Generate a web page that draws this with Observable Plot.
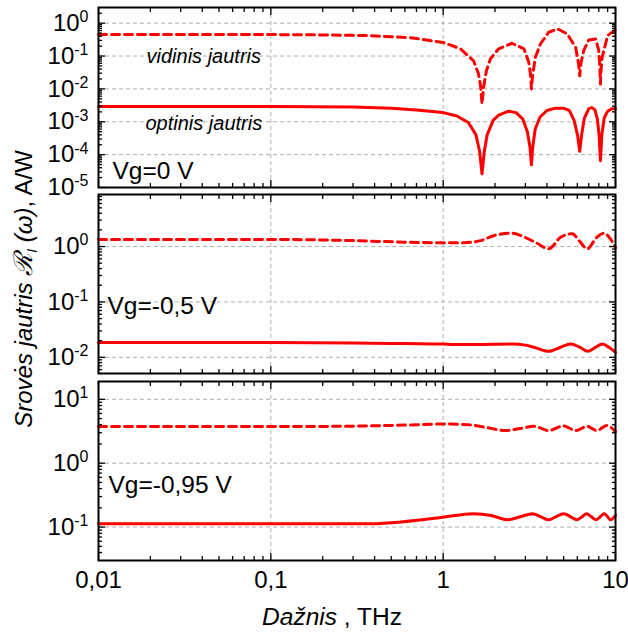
<!DOCTYPE html>
<html><head><meta charset="utf-8">
<script src="https://cdn.jsdelivr.net/npm/d3@7"></script>
<script src="https://cdn.jsdelivr.net/npm/@observablehq/plot@0.6"></script>
<style>
body{margin:0;background:#fff;}
#chart{position:relative;width:628px;height:632px;font-family:"Liberation Sans",Arial,sans-serif;}
#chart svg{position:absolute;left:0;overflow:visible;}
</style></head><body><div id="chart"></div>
<script>
// ---------- data ----------
const xDomain = [0.01, 10];
const xTicks = [0.01, 0.1, 1, 10];
const xTickLabels = ["0,01", "0,1", "1", "10"];

const panelLabels = ["Vg=0 V", "Vg=-0,5 V", "Vg=-0,95 V"];
const curveLabels = ["vidinis jautris", "optinis jautris"];

// Panel 1: Vg = 0 V
const p1InternalFreq = [0.01,0.1,0.2,0.36,0.65,1.0,1.26,1.5,1.6,1.65,1.68,1.72,1.78,1.88,2.1,2.51,2.94,3.14,3.22,3.25,3.3,3.43,3.67,4.1,4.62,5.25,5.87,6.1,6.2,6.3,6.54,7.0,7.67,8.0,8.12,8.18,8.25,8.37,9.0,10];
const p1Internal     = [0.45,0.45,0.44,0.42,0.36,0.26,0.166,0.072,0.03,0.012,0.0035,0.012,0.035,0.082,0.166,0.245,0.166,0.065,0.025,0.01,0.025,0.092,0.235,0.53,0.67,0.47,0.185,0.06,0.025,0.06,0.147,0.31,0.33,0.147,0.04,0.014,0.04,0.092,0.42,0.63];
const p1OpticalFreq = [0.01,0.1,0.3,0.5,0.7,1.0,1.2,1.4,1.55,1.63,1.68,1.73,1.8,1.95,2.1,2.4,2.65,2.9,3.08,3.19,3.25,3.31,3.42,3.65,4.0,4.5,5.0,5.4,5.75,6.02,6.2,6.36,6.6,7.0,7.3,7.6,7.85,8.03,8.18,8.33,8.6,9.0,9.5,10];
const p1Optical     = [0.0029,0.0029,0.0028,0.0026,0.0023,0.0019,0.0015,0.00095,0.0004,0.00012,0.000026,0.00012,0.0004,0.0011,0.0016,0.0021,0.0019,0.0012,0.0005,0.00017,0.000049,0.00017,0.0006,0.0014,0.0022,0.0026,0.0026,0.0022,0.0011,0.0004,0.000126,0.0004,0.0013,0.0025,0.0027,0.0023,0.0012,0.0004,0.000065,0.0004,0.0013,0.0021,0.0025,0.0025];
const p1YTicks = [1e-5, 1e-4, 1e-3, 1e-2, 1e-1, 1];

// Panel 2: Vg = -0,5 V
const p2InternalFreq = [0.01,0.1,0.3,0.6,1.0,1.3,1.65,2.0,2.5,3.0,3.5,4.1,4.8,5.6,6.25,6.85,7.8,8.6,9.3,10];
const p2Internal     = [1.34,1.34,1.28,1.2,1.17,1.17,1.28,1.6,1.74,1.45,1.15,0.91,1.47,1.7,1.2,0.91,1.47,1.74,1.4,0.95];
const p2OpticalFreq = [0.01,0.1,0.3,0.6,1.0,1.15,1.6,2.5,3.0,3.4,4.1,4.8,5.5,6.2,6.9,7.6,8.4,9.2,10];
const p2Optical     = [0.0186,0.0186,0.0182,0.0177,0.0174,0.0170,0.0171,0.0174,0.0166,0.015,0.0128,0.0152,0.0174,0.0152,0.0128,0.015,0.0174,0.015,0.0123];
const p2YTicks = [1e-2, 1e-1, 1];

// Panel 3: Vg = -0,95 V
const p3InternalFreq = [0.01,0.1,0.3,0.6,1.0,1.4,1.8,2.3,2.8,3.36,4.1,5.0,5.87,6.85,7.8,8.9,10];
const p3Internal     = [3.74,3.74,3.8,3.95,4.1,4.0,3.6,3.24,3.5,3.78,3.24,3.84,3.24,3.78,3.24,3.9,3.1];
const p3OpticalFreq = [0.01,0.1,0.38,0.6,1.0,1.5,1.9,2.37,2.8,3.3,3.7,4.1,4.5,5.0,5.5,5.95,6.4,6.8,7.25,7.7,8.15,8.6,9.0,9.35,10];
const p3Optical     = [0.113,0.113,0.113,0.122,0.143,0.162,0.152,0.13,0.145,0.162,0.145,0.13,0.145,0.162,0.145,0.13,0.145,0.162,0.145,0.13,0.145,0.162,0.145,0.13,0.153];
const p3YTicks = [1e-1, 1, 10];

// ---------- helpers ----------
const FONT = "Liberation Sans, Arial, sans-serif";
const RED = "#ff0000";
function minorTicks(domain) {
  const out = [];
  const e0 = Math.floor(Math.log10(domain[0])), e1 = Math.ceil(Math.log10(domain[1]));
  for (let e = e0; e < e1; e++) for (let k = 2; k <= 9; k++) {
    const v = k * Math.pow(10, e);
    if (v > domain[0] && v < domain[1]) out.push(v);
  }
  return out;
}
const xMinor = minorTicks(xDomain);
const tickStyle = {stroke: "#000", strokeWidth: 1.3, label: null};

function makePanel(cfg) {
  const {top, height, mt, mb, yDomain, yTicks, inF, inV, opF, opV, curve, showX, texts} = cfg;
  const yMinor = minorTicks(yDomain);
  const inside = (d, dom) => d > dom[0] * 1.0001 && d < dom[1] * 0.9999;
  const marks = [
    Plot.gridX(xTicks.filter(d => inside(d, xDomain)), {stroke: "#b0b0b0", strokeOpacity: 1, strokeDasharray: "4,3"}),
    Plot.gridY(yTicks.filter(d => inside(d, yDomain)), {stroke: "#b0b0b0", strokeOpacity: 1, strokeDasharray: "4,3"}),
    Plot.line(inF, {x: inF, y: inV, stroke: RED, strokeWidth: 3, strokeDasharray: "8,5", curve}),
    Plot.line(opF, {x: opF, y: opV, stroke: RED, strokeWidth: 3, curve}),
    // ticks (inward)
    Plot.axisX(xMinor, {anchor: "bottom", tickSize: -4, tickFormat: () => "", ...tickStyle}),
    Plot.axisX(xMinor, {anchor: "top", tickSize: -4, tickFormat: () => "", ...tickStyle}),
    Plot.axisX(xTicks, {anchor: "bottom", tickSize: -7, tickFormat: () => "", ...tickStyle}),
    Plot.axisX(xTicks, {anchor: "top", tickSize: -7, tickFormat: () => "", ...tickStyle}),
    Plot.axisY(yMinor, {anchor: "left", tickSize: -4, tickFormat: () => "", ...tickStyle}),
    Plot.axisY(yMinor, {anchor: "right", tickSize: -4, tickFormat: () => "", ...tickStyle}),
    Plot.axisY(yTicks, {anchor: "left", tickSize: -7, tickFormat: () => "", ...tickStyle}),
    Plot.axisY(yTicks, {anchor: "right", tickSize: -7, tickFormat: () => "", ...tickStyle}),
    // tick labels
    Plot.axisY(yTicks, {anchor: "left", tickSize: 0, tickPadding: 10, label: null, fontSize: 24,
      tickFormat: d => "10^" + Math.round(Math.log10(d))}),
    Plot.frame({stroke: "#000", strokeWidth: 2}),
    ...texts.map(t => Plot.text([t.text], {text: d => d, frameAnchor: t.anchor, lineAnchor: "top", textAnchor: "start",
      dx: t.dx, dy: t.dy, fontSize: t.size, fontStyle: t.italic ? "italic" : "normal", fill: "#000"}))
  ];
  if (showX) marks.push(Plot.axisX(xTicks, {anchor: "bottom", tickSize: 0, tickPadding: 10, label: null, fontSize: 24,
    tickFormat: d => xTickLabels[xTicks.indexOf(d)]}));
  const svg = Plot.plot({
    width: 628, height, marginLeft: 98, marginRight: 13, marginTop: mt, marginBottom: mb,
    x: {type: "log", domain: xDomain},
    y: {type: "log", domain: yDomain},
    style: {fontFamily: FONT, fontSize: "24px", color: "#000", background: "transparent", overflow: "visible"},
    marks
  });
  svg.style.position = "absolute";
  svg.style.top = top + "px";
  svg.style.left = "0px";
  // superscript exponents on y tick labels
  svg.querySelectorAll('[aria-label="y-axis tick label"] text').forEach(t => {
    const s = t.textContent;
    if (!s.includes("^")) return;
    const [base, exp] = s.split("^");
    t.textContent = "";
    const ns = "http://www.w3.org/2000/svg";
    const a = document.createElementNS(ns, "tspan"); a.textContent = base; t.appendChild(a);
    const b = document.createElementNS(ns, "tspan"); b.textContent = exp;
    b.setAttribute("dy", "-0.55em"); b.setAttribute("font-size", "16px"); t.appendChild(b);
  });
  document.getElementById("chart").appendChild(svg);
}

makePanel({top: 0, height: 197, mt: 7, mb: 10, yDomain: [1e-5, 3], yTicks: p1YTicks,
  inF: p1InternalFreq, inV: p1Internal, opF: p1OpticalFreq, opV: p1Optical, curve: "linear", showX: false,
  texts: [
    {text: panelLabels[0], anchor: "bottom-left", dx: 14, dy: -26, size: 24.5},
    {text: curveLabels[0], anchor: "top-left", dx: 48, dy: 41, size: 20, italic: true},
    {text: curveLabels[1], anchor: "top-left", dx: 47, dy: 108, size: 20, italic: true}
  ]});
makePanel({top: 187, height: 196, mt: 7, mb: 10, yDomain: [0.0051, 8.7], yTicks: p2YTicks,
  inF: p2InternalFreq, inV: p2Internal, opF: p2OpticalFreq, opV: p2Optical, curve: "monotone-x", showX: false,
  texts: [{text: panelLabels[1], anchor: "top-left", dx: 9, dy: 102, size: 24.5}]});
makePanel({top: 373, height: 259, mt: 8, mb: 72, yDomain: [0.03, 19], yTicks: p3YTicks,
  inF: p3InternalFreq, inV: p3Internal, opF: p3OpticalFreq, opV: p3Optical, curve: "monotone-x", showX: true,
  texts: [{text: panelLabels[2], anchor: "top-left", dx: 10, dy: 94, size: 24.5}]});

// ---------- axis titles ----------
const over = d3.select("#chart").append("svg").attr("width", 628).attr("height", 632)
  .style("top", "0px").style("pointer-events", "none")
  .attr("font-family", FONT).attr("font-size", 24).attr("fill", "#000");
const yl = over.append("text").attr("transform", "translate(32,289) rotate(-90)").attr("text-anchor", "middle");
yl.append("tspan").attr("font-style", "italic").text("Srovės jautris ");
yl.append("tspan").attr("font-family", "DejaVu Serif, serif").attr("font-style", "italic").attr("font-size", 26).text("ℛ");
yl.append("tspan").attr("font-size", 14).attr("font-style", "italic").attr("dy", 5).text("I");
yl.append("tspan").attr("dy", -5).attr("font-style", "italic").text(" (ω)");
yl.append("tspan").text(", A/W");
const xl = over.append("text").attr("x", 332).attr("y", 625).attr("text-anchor", "middle").attr("font-size", 24.5);
xl.append("tspan").attr("font-style", "italic").text("Dažnis");
xl.append("tspan").text(" , THz");
</script></body></html>
